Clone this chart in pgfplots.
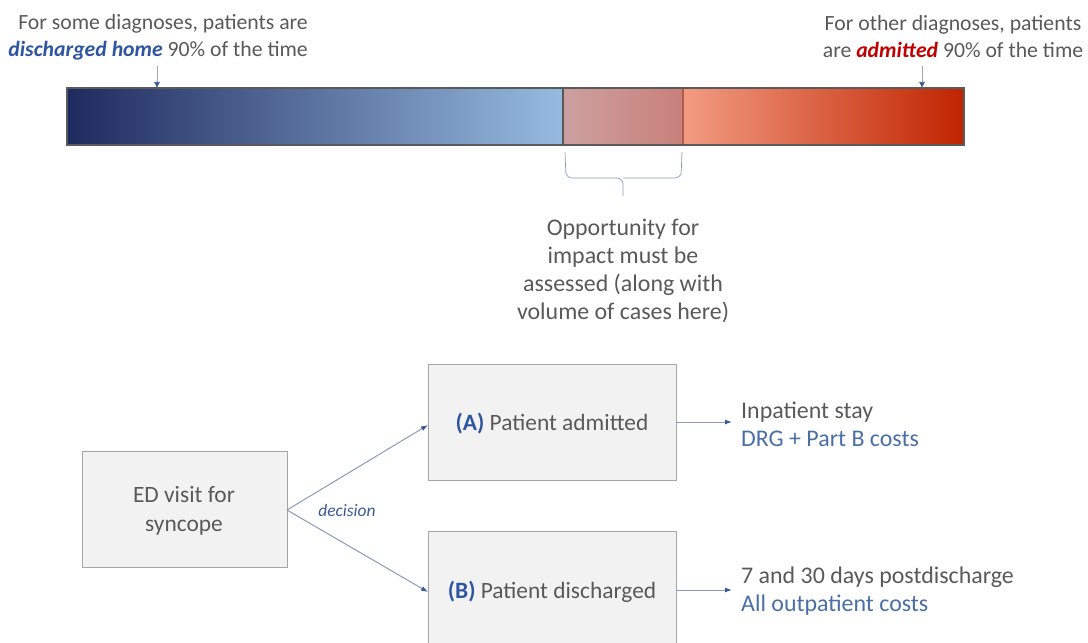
\documentclass[border=0pt]{standalone}
\usepackage{fontspec}
\setmainfont{Carlito}
\usepackage{pgfplots}
\pgfplotsset{compat=1.18}
\usetikzlibrary{arrows.meta}
\definecolor{txtgray}{HTML}{595959}
\definecolor{bblue}{HTML}{2E55A0}
\definecolor{lblue}{HTML}{4A6EA8}
\definecolor{dred}{HTML}{C00000}
\definecolor{boxfill}{HTML}{F2F2F2}
\definecolor{boxline}{HTML}{A6A6A6}
\definecolor{arrline}{HTML}{8A9AB5}
\definecolor{ahead}{HTML}{3B5998}
\definecolor{bA}{HTML}{1F2A5E}
\definecolor{bB}{HTML}{5E7898}
\definecolor{bC}{HTML}{96BBE0}
\definecolor{pA}{HTML}{CCA0A0}
\definecolor{pB}{HTML}{C9807A}
\definecolor{oA}{HTML}{F29C82}
\definecolor{oB}{HTML}{DE6648}
\definecolor{oC}{HTML}{C02400}
\definecolor{divred}{HTML}{B45A4A}
\definecolor{divgray}{HTML}{595959}
\definecolor{frame}{HTML}{5A5A5A}
\begin{document}
\begin{tikzpicture}
\begin{axis}[scale only axis, width=1088bp, height=643bp,
  xmin=0, xmax=1088, ymin=0, ymax=643, y dir=reverse,
  axis lines=none, ticks=none, clip=false]
% gradient bar
\addplot[draw=none, left color=bA, middle color=bB, right color=bC] coordinates {(67,88) (563,88) (563,145) (67,145)} -- cycle;
\addplot[draw=none, left color=pA, right color=pB] coordinates {(563,88) (683,88) (683,145) (563,145)} -- cycle;
\addplot[draw=none, left color=oA, middle color=oB, right color=oC] coordinates {(683,88) (964,88) (964,145) (683,145)} -- cycle;
\addplot[draw=divred, line width=1.2bp] coordinates {(683,88) (683,145)};
\addplot[draw=divgray, line width=1.6bp] coordinates {(563,88) (563,145)};
\addplot[draw=frame, line width=2bp] coordinates {(67,88) (964,88) (964,145) (67,145)} -- cycle;
% small arrows to bar
\addplot[draw=boxline, line width=0.6bp, -{Latex[length=6bp,width=6bp,color=ahead]}] coordinates {(157,66) (157,88)};
\addplot[draw=boxline, line width=0.6bp, -{Latex[length=6bp,width=6bp,color=ahead]}] coordinates {(922,66) (922,88)};
% brace
\addplot[draw=arrline, line width=0.7bp, rounded corners=6bp] coordinates {(565,152) (566,178) (623,178) (623,196)};
\addplot[draw=arrline, line width=0.7bp, rounded corners=6bp] coordinates {(682,152) (681,178) (623,178)};
% boxes
\addplot[draw=boxline, fill=boxfill, line width=1bp] coordinates {(82,451) (287,451) (287,567) (82,567)} -- cycle;
\addplot[draw=boxline, fill=boxfill, line width=1bp] coordinates {(428,364) (676,364) (676,480) (428,480)} -- cycle;
\addplot[draw=boxline, fill=boxfill, line width=1bp] coordinates {(428,660) (428,531) (676,531) (676,660)};
% arrows
\addplot[draw=arrline, line width=1bp, -{Latex[length=7bp,width=5bp,color=ahead]}] coordinates {(287,510) (428,425)};
\addplot[draw=arrline, line width=1bp, -{Latex[length=7bp,width=5bp,color=ahead]}] coordinates {(287,510) (428,592)};
\addplot[draw=arrline, line width=1bp, -{Latex[length=7bp,width=5bp,color=ahead]}] coordinates {(676,422) (732,422)};
\addplot[draw=arrline, line width=1bp, -{Latex[length=7bp,width=5bp,color=ahead]}] coordinates {(676,590) (732,590)};
% texts
\node[anchor=east, align=right, text=txtgray, font=\fontsize{21.8}{27}\selectfont, inner sep=0pt] at (axis cs:308,37) {For some diagnoses, patients are\\\textcolor{bblue}{\textbf{\textit{discharged home}}} 90\% of the time};
\node[anchor=center, align=center, text=txtgray, font=\fontsize{21.8}{27}\selectfont, inner sep=0pt] at (axis cs:953,37) {For other diagnoses, patients\\are \textcolor{dred}{\textbf{\textit{admitted}}} 90\% of the time};
\node[anchor=center, align=center, text=txtgray, font=\fontsize{24}{28.3}\selectfont, inner sep=0pt] at (axis cs:623,271) {Opportunity for\\impact must be\\assessed (along with\\volume of cases here)};
\node[anchor=center, align=center, text=txtgray, font=\fontsize{23.5}{29}\selectfont, inner sep=0pt] at (axis cs:184,511) {ED visit for\\syncope};
\node[anchor=center, text=txtgray, font=\fontsize{23.5}{27}\selectfont, inner sep=0pt] at (axis cs:552,424) {\textcolor{bblue}{\textbf{(A)}} Patient admitted};
\node[anchor=center, text=txtgray, font=\fontsize{23.5}{27}\selectfont, inner sep=0pt] at (axis cs:552,592) {\textcolor{bblue}{\textbf{(B)}} Patient discharged};
\node[anchor=center, text=ahead, font=\fontsize{17.5}{19}\selectfont\itshape, inner sep=0pt] at (axis cs:347,511) {decision};
\node[anchor=west, align=left, text=txtgray, font=\fontsize{24}{28}\selectfont, inner sep=0pt] at (axis cs:741,424) {Inpatient stay\\\textcolor{lblue}{DRG + Part B costs}};
\node[anchor=west, align=left, text=txtgray, font=\fontsize{24}{28}\selectfont, inner sep=0pt] at (axis cs:741,591) {7 and 30 days postdischarge\\\textcolor{lblue}{All outpatient costs}};
\end{axis}
\pgfresetboundingbox
\path (current axis.south west) rectangle (current axis.north east);
\end{tikzpicture}
\end{document}
